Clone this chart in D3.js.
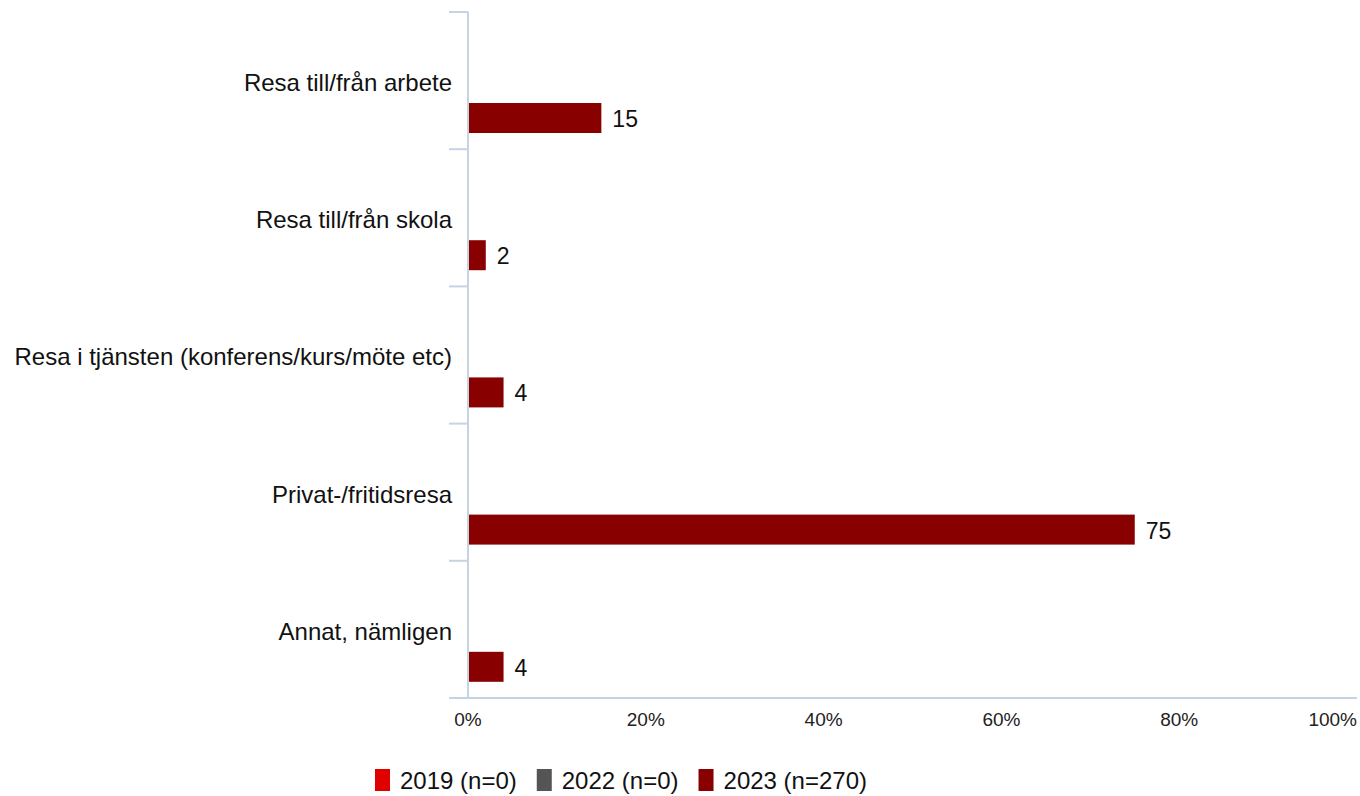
<!DOCTYPE html>
<html><head><meta charset="utf-8">
<script src="https://cdn.jsdelivr.net/npm/d3@7"></script>
<style>body{margin:0;background:#fff}svg{display:block;font-family:"Liberation Sans",Arial,sans-serif}</style>
</head><body><svg id="c" width="1360" height="796"></svg>
<script>
const categories = ["Resa till/från arbete","Resa till/från skola","Resa i tjänsten (konferens/kurs/möte etc)","Privat-/fritidsresa","Annat, nämligen"];
const seriesNames = ["2019 (n=0)","2022 (n=0)","2023 (n=270)"];
const seriesColors = ["#e00000","#555555","#880000"];
const values2019 = [null,null,null,null,null];
const values2022 = [null,null,null,null,null];
const values2023 = [15,2,4,75,4];
const xTicks = [0,20,40,60,80,100];
const seriesValues = [values2019, values2022, values2023];

(function(){
const svg = d3.select("#c");
const pL = 468, pR = 1357, pT = 12, pB = 698;
const x = d3.scaleLinear().domain([0,100]).range([pL, pR]);
const y0 = d3.scaleBand().domain(categories).range([pT,pB]).padding(0);
const y1 = d3.scaleBand().domain(seriesNames).range([0,y0.bandwidth()]).paddingInner(0).paddingOuter(0.787).align(0.657);
const axisColor = "#c6d3e2";

// bars
categories.forEach((c,ci)=>{
  seriesNames.forEach((s,si)=>{
    const v = seriesValues[si][ci];
    if(v==null) return;
    const yy = y0(c)+y1(s);
    svg.append("rect").attr("x",x(0)).attr("y",yy).attr("width",x(v)-x(0)).attr("height",y1.bandwidth()).attr("fill",seriesColors[si]);
    svg.append("text").attr("x",x(v)+11).attr("y",yy+y1.bandwidth()/2+1).attr("dy","0.35em")
      .attr("font-size",23).attr("fill","#111").text(v);
  });
});

// y axis
const yb = categories.map(c=>y0(c)).concat([pB]);
svg.append("line").attr("x1",pL).attr("x2",pL).attr("y1",pT).attr("y2",pB).attr("stroke",axisColor).attr("stroke-width",2);
yb.forEach(t=>svg.append("line").attr("x1",pL-19).attr("x2",pL).attr("y1",t).attr("y2",t).attr("stroke",axisColor).attr("stroke-width",2));
categories.forEach(c=>{
  svg.append("text").attr("x",pL-16).attr("y",y0(c)+y0.bandwidth()/2+2).attr("dy","0.35em")
    .attr("text-anchor","end").attr("font-size",24).attr("fill","#111").text(c);
});

// x axis
svg.append("line").attr("x1",pL-19).attr("x2",pR).attr("y1",pB).attr("y2",pB).attr("stroke",axisColor).attr("stroke-width",2);
xTicks.forEach((t,i)=>{
  const last = i===xTicks.length-1;
  svg.append("text").attr("x",last?pR:x(t)).attr("y",719).attr("dy","0.35em")
    .attr("text-anchor",last?"end":"middle").attr("font-size",19).attr("fill","#222").text(t+"%");
});

// legend
let lx = 375;
seriesNames.forEach((s,i)=>{
  svg.append("rect").attr("x",lx).attr("y",769).attr("width",15).attr("height",22).attr("fill",seriesColors[i]);
  const t = svg.append("text").attr("x",lx+25).attr("y",781).attr("dy","0.35em").attr("font-size",24).attr("fill","#111").text(s);
  lx += 25 + t.node().getComputedTextLength() + 20;
});
})();
</script></body></html>
